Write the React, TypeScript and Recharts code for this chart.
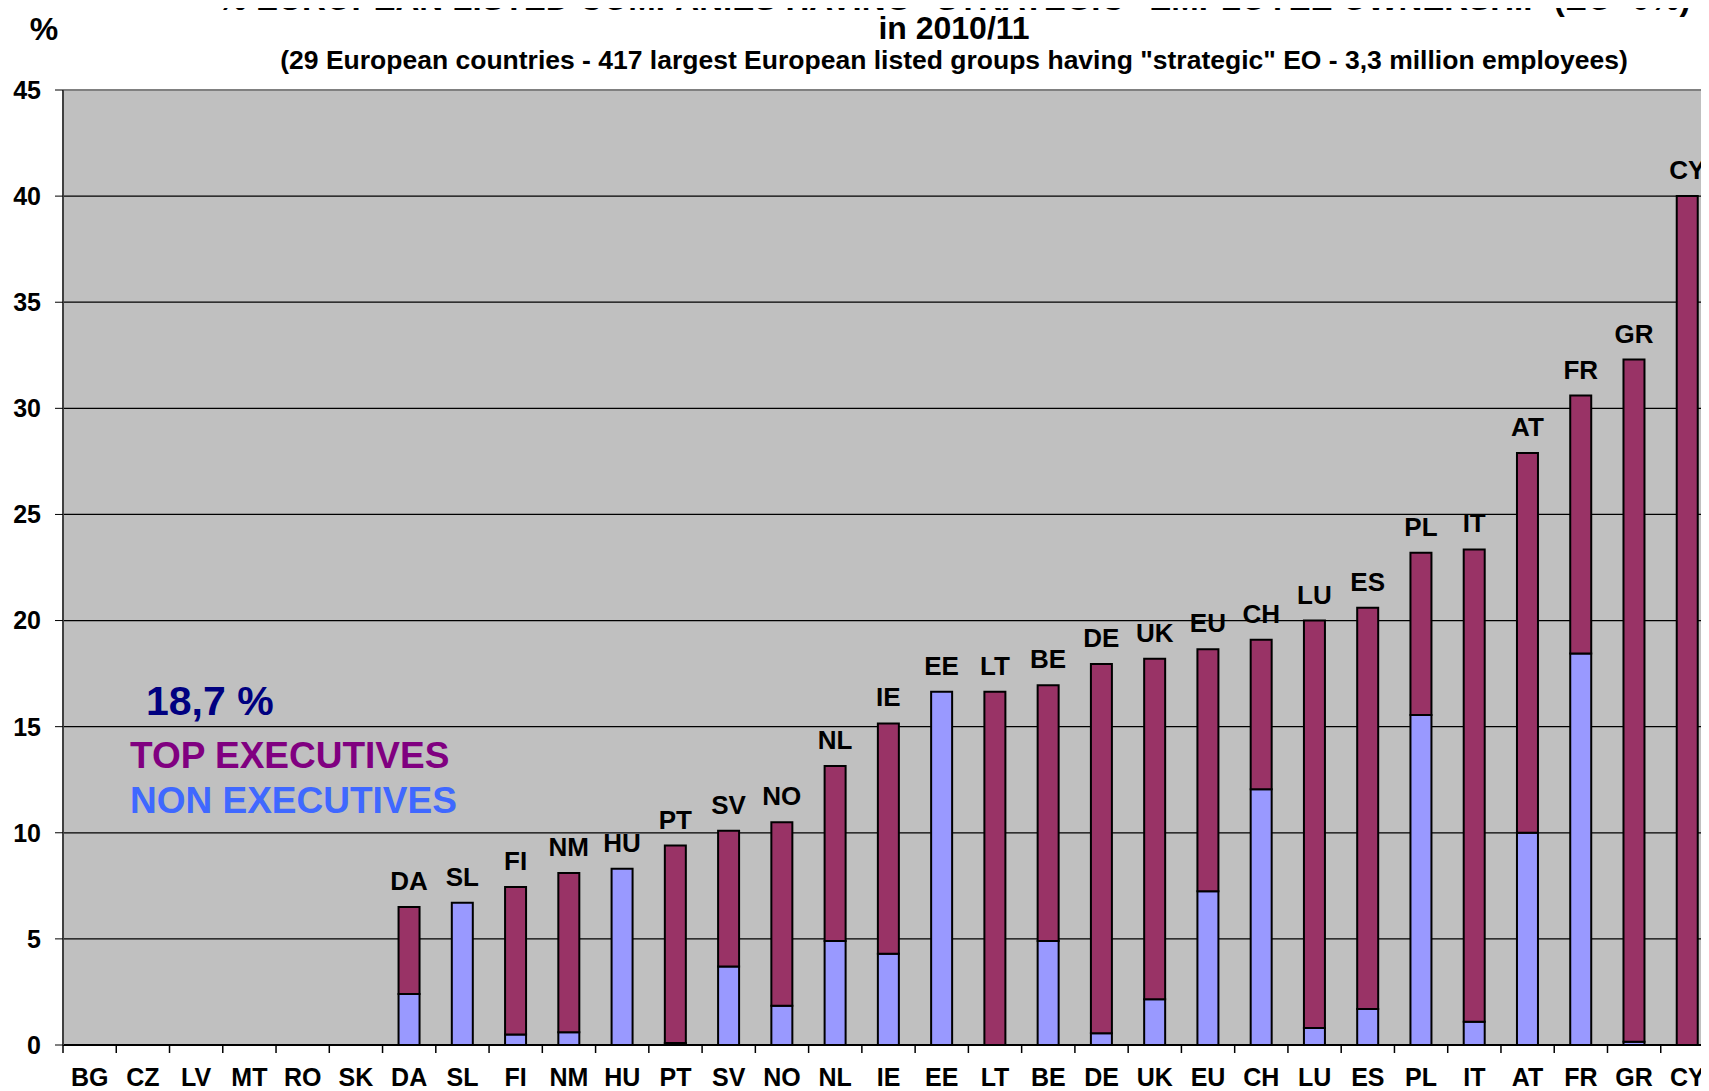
import React from 'react';
import { BarChart, Bar, XAxis, YAxis, CartesianGrid, LabelList, ReferenceLine } from 'recharts';

const categories = ['BG', 'CZ', 'LV', 'MT', 'RO', 'SK', 'DA', 'SL', 'FI', 'NM', 'HU', 'PT', 'SV', 'NO', 'NL', 'IE', 'EE', 'LT', 'BE', 'DE', 'UK', 'EU', 'CH', 'LU', 'ES', 'PL', 'IT', 'AT', 'FR', 'GR', 'CY'];
const nonExecutives = [0, 0, 0, 0, 0, 0, 2.4, 6.7, 0.5, 0.6, 8.3, 0.1, 3.7, 1.85, 4.9, 4.3, 16.65, 0, 4.9, 0.55, 2.15, 7.25, 12.05, 0.8, 1.7, 15.55, 1.1, 10.0, 18.45, 0.15, 0];
const topExecutives = [0, 0, 0, 0, 0, 0, 4.1, 0, 6.95, 7.5, 0, 9.3, 6.4, 8.65, 8.25, 10.85, 0, 16.65, 12.05, 17.4, 16.05, 11.4, 7.05, 19.2, 18.9, 7.65, 22.25, 17.9, 12.15, 32.15, 40];
const yTicks = [0, 5, 10, 15, 20, 25, 30, 35, 40, 45];

const data = categories.map((name, i) => ({
    name,
    non: nonExecutives[i],
    top: topExecutives[i],
}));

const FONT = '"Liberation Sans", Arial, sans-serif';
const MAROON = '#993366';
const LILAC = '#9999FF';

const XTick = (props: any) => {
    const { x, y, payload } = props;
    const half = payload && payload.offset ? payload.offset : 26.6;
    return (
        <g>
            <line x1={x - half} x2={x - half} y1={y} y2={y + 8} stroke="#000" strokeWidth={1.5} />
            <text x={x} y={y + 41} textAnchor="middle" fontFamily={FONT} fontWeight="bold" fontSize={25} fill="#000">
                {payload.value}
            </text>
        </g>
    );
};

// name above each bar, put on whichever segment is the top of the stack
const makeLabel = (series: 'top' | 'non') => (props: any) => {
    const { x, y, width, value } = props;
    const i = categories.indexOf(value);
    if (i < 0) return null;
    const show = series === 'top'
        ? topExecutives[i] > 0
        : topExecutives[i] === 0 && nonExecutives[i] > 0;
    if (!show) return null;
    return (
        <text x={x + width / 2} y={y - 17} textAnchor="middle" fontFamily={FONT} fontWeight="bold" fontSize={26} fill="#000">
            {value}
        </text>
    );
};

export default function App() {
    return (
        <div style={{ position: 'relative', width: 1709, height: 1091, margin: '-8px 0 0 -8px', overflow: 'hidden', background: '#fff' }}>
            <BarChart
                width={1709}
                height={1091}
                data={data}
                margin={{ top: 90, right: -5, bottom: 0, left: 0 }}
                barSize={21}
            >
                <CartesianGrid vertical={false} stroke="#000" strokeWidth={1.2} fill="#C0C0C0" fillOpacity={1} />
                <ReferenceLine y={45} stroke="#808080" strokeWidth={2} />
                <XAxis
                    dataKey="name"
                    height={46}
                    interval={0}
                    tickLine={false}
                    tickSize={0}
                    tickMargin={0}
                    axisLine={{ stroke: '#000', strokeWidth: 2 }}
                    tick={<XTick />}
                />
                <YAxis
                    width={63}
                    domain={[0, 45]}
                    ticks={yTicks}
                    interval={0}
                    tickSize={8}
                    tickMargin={14}
                    axisLine={{ stroke: '#404040', strokeWidth: 2 }}
                    tickLine={{ stroke: '#000' }}
                    tick={{ fontFamily: FONT, fontWeight: 'bold', fontSize: 25, fill: '#000' }}
                />
                <Bar dataKey="non" stackId="eo" fill={LILAC} stroke="#000" strokeWidth={2} isAnimationActive={false}>
                    <LabelList dataKey="name" content={makeLabel('non')} />
                </Bar>
                <Bar dataKey="top" stackId="eo" fill={MAROON} stroke="#000" strokeWidth={2} isAnimationActive={false}>
                    <LabelList dataKey="name" content={makeLabel('top')} />
                </Bar>
            </BarChart>
            <svg width={1709} height={1091} style={{ position: 'absolute', left: 0, top: 0, pointerEvents: 'none' }}>
                <g fontFamily={FONT} fontWeight="bold" fill="#000">
                    <text x={954} y={10} textAnchor="middle" fontSize={33}>
                        % EUROPEAN LISTED COMPANIES HAVING "STRATEGIC" EMPLOYEE OWNERSHIP (EO&gt;0%)
                    </text>
                    <text x={954} y={39} textAnchor="middle" fontSize={32}>in 2010/11</text>
                    <text x={954} y={69} textAnchor="middle" fontSize={26.5}>
                        (29 European countries - 417 largest European listed groups having "strategic" EO - 3,3 million employees)
                    </text>
                    <text x={44} y={40} textAnchor="middle" fontSize={32}>%</text>
                    <text x={146} y={715} fontSize={41} fill="#000080">18,7 %</text>
                    <text x={130} y={768} fontSize={37} fill="#800080">TOP EXECUTIVES</text>
                    <text x={130} y={813} fontSize={37} fill="#3F68FF">NON EXECUTIVES</text>
                </g>
            </svg>
        </div>
    );
}
